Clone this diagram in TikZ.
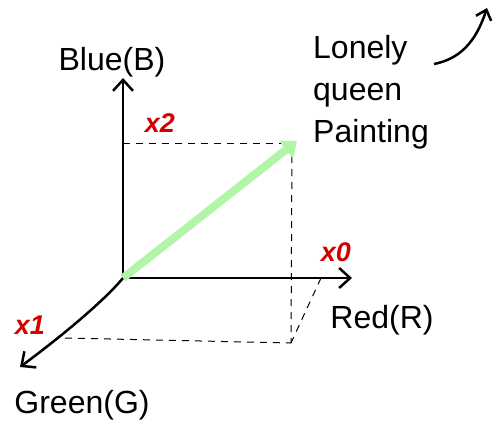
\documentclass[tikz,border=0pt]{standalone}
\usepackage{fontspec}
\setmainfont{Liberation Sans}
\usetikzlibrary{arrows.meta}
\definecolor{vecgreen}{HTML}{B2F5A9}
\definecolor{idxred}{HTML}{D40000}
\begin{document}
\begin{tikzpicture}[x=1pt,y=-1pt,
  axis/.style={line width=2.5pt,black,-{Straight Barb[length=11pt,width=20pt,line width=2.5pt]}},
  guide/.style={line width=1pt,black,dash pattern=on 7pt off 6pt},
  lbl/.style={font=\fontsize{32}{38}\selectfont,inner sep=0pt},
  idx/.style={font=\fontsize{27}{30}\selectfont\bfseries\itshape,text=idxred,inner sep=0pt},
  vec/.style={line width=8pt,draw=vecgreen,-{Triangle[length=14pt,width=22pt]}}]
\useasboundingbox (0,0) rectangle (493,432);
% key points
\coordinate (O) at (123,278);
\coordinate (B) at (123,78);
\coordinate (R) at (352,278);
\coordinate (G) at (20,367);
\coordinate (P) at (297,141);
\coordinate (Z) at (123,143);
\coordinate (PT) at (292,143);
\coordinate (PB) at (291,343);
\coordinate (GX) at (65,338);
\coordinate (RX) at (321,278);
\coordinate (A1) at (434,64);
\coordinate (A2) at (487,8);
% guides
\draw[guide] (Z) -- (PT);
\draw[guide] (PT) -- (PB);
\draw[guide] (GX) -- (PB);
\draw[guide] (RX) -- (PB);
% axes
\draw[axis] (O) -- (B);
\draw[axis] (O) -- (R);
\draw[axis] (O) .. controls (105,300) and (62,336) .. (G);
% vector
\draw[vec] (O) -- (P);
% side arrow
\draw[line width=2.5pt,-{Straight Barb[length=9pt,width=16pt,line width=2.5pt]}] (A1) .. controls (465,58) and (478,35) .. (A2);
% labels
\node[lbl] (lb) at (112,62) {Blue(B)};
\node[lbl] (lr) at (382,320) {Red(R)};
\node[lbl] (lg) at (82,405) {Green(G)};
\node[lbl,align=left,anchor=west] (lq) at (313,92) {Lonely\\[4pt]queen\\[4pt]Painting};
\node[idx] (x2) at (160,123) {x2};
\node[idx] (x0) at (336,252) {x0};
\node[idx] (x1) at (30,325) {x1};
\end{tikzpicture}
\end{document}
